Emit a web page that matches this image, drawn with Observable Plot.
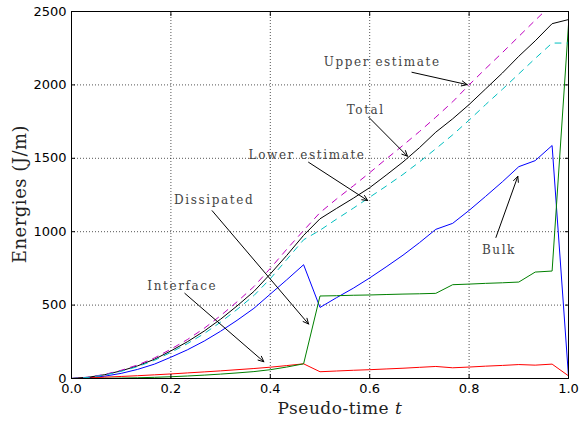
<!DOCTYPE html>
<html><head><meta charset="utf-8">
<script src="https://cdn.jsdelivr.net/npm/d3@7"></script>
<script src="https://cdn.jsdelivr.net/npm/@observablehq/plot@0.6"></script>
<style>
body{margin:0;background:#fff}
#chart svg g[aria-label="text"] text{letter-spacing:1.6px}
.axlab{letter-spacing:0.5px}
</style></head><body><div id="chart"></div>
<script>
// pseudo-time samples
const t = [0, 0.033, 0.067, 0.1, 0.133, 0.167, 0.2, 0.233, 0.267, 0.3, 0.333, 0.367, 0.4, 0.433, 0.467,
  0.5, 0.533, 0.567, 0.6, 0.633, 0.667, 0.7, 0.733, 0.767, 0.8, 0.833, 0.867, 0.9, 0.933, 0.967, 1.0];
const bulk = [0, 4, 16, 35, 62, 98, 145, 195, 255, 322, 396, 478, 575, 672, 775,
  484, 550, 615, 685, 760, 840, 925, 1016, 1057, 1145, 1240, 1340, 1443, 1484, 1587, 15];
const dissipated = [0, 0, 1, 3, 5, 8, 12, 17, 23, 30, 38, 47, 60, 78, 100,
  562, 564, 567, 569, 572, 575, 577, 580, 639, 643, 648, 652, 657, 725, 732, 2410];
const interfaceE = [0, 4, 9, 14, 19, 25, 31, 38, 45, 52, 60, 68, 77, 88, 100,
  46, 51, 56, 60, 65, 70, 76, 82, 73, 78, 84, 89, 95, 91, 98, 18];
const total = [0, 8, 26, 52, 86, 131, 188, 250, 323, 404, 494, 593, 712, 838, 975,
  1088, 1158, 1228, 1300, 1385, 1475, 1572, 1678, 1769, 1866, 1972, 2081, 2195, 2300, 2417, 2445];
const upper = [0, 9, 28, 56, 92, 140, 200, 265, 342, 428, 522, 626, 750, 880, 1008,
  1130, 1222, 1312, 1402, 1495, 1588, 1682, 1780, 1885, 2000, 2110, 2220, 2330, 2440, 2550, 2580];
const lower = [0, 7, 24, 49, 81, 124, 178, 237, 306, 384, 470, 565, 680, 810, 945,
  1010, 1085, 1160, 1235, 1310, 1390, 1475, 1565, 1660, 1760, 1865, 1970, 2075, 2180, 2285, 2285];

const xTicks = [0, 0.2, 0.4, 0.6, 0.8, 1.0];
const yTicks = [0, 500, 1000, 1500, 2000, 2500];

// annotations (data coordinates)
const annLabels = ["Upper estimate", "Total", "Lower estimate", "Dissipated", "Interface", "Bulk"];
const annTextT = [0.625, 0.592, 0.474, 0.287, 0.223, 0.860];
const annTextV = [2152, 1830, 1523, 1212, 632, 877];
const annFromT = [0.685, 0.598, 0.477, 0.283, 0.228, 0.854];
const annFromV = [2086, 1780, 1473, 1143, 580, 961];
const annToT = [0.796, 0.676, 0.596, 0.477, 0.387, 0.898];
const annToV = [2002, 1514, 1212, 371, 114, 1377];

const series = [
  {name: "Bulk", values: bulk, color: "#0000ff", dash: null},
  {name: "Interface", values: interfaceE, color: "#ff0000", dash: null},
  {name: "Dissipated", values: dissipated, color: "#008000", dash: null},
  {name: "Total", values: total, color: "#000000", dash: null},
  {name: "Upper estimate", values: upper, color: "#bf00bf", dash: "6,6"},
  {name: "Lower estimate", values: lower, color: "#00bfbf", dash: "6,6"}
];
const ann = annLabels.map((l, i) => ({label: l, tx: annTextT[i], ty: annTextV[i],
  x1: annFromT[i], y1: annFromV[i], x2: annToT[i], y2: annToV[i]}));

const lineMarks = series.map(s => Plot.line(t.map((tt, i) => ({t: tt, v: s.values[i]})), {
  x: "t", y: "v", stroke: s.color, strokeWidth: 1, strokeDasharray: s.dash, clip: true
}));

const chart = Plot.plot({
  width: 581, height: 422,
  marginLeft: 71, marginRight: 13, marginTop: 11, marginBottom: 44,
  style: {fontFamily: "DejaVu Sans", fontSize: "13px", color: "#000", background: "#fff"},
  x: {domain: [0, 1]},
  y: {domain: [0, 2500]},
  marks: [
    Plot.ruleX(xTicks, {stroke: "#000", strokeDasharray: "1,2", strokeWidth: 0.8, strokeOpacity: 0.85}),
    Plot.ruleY(yTicks, {stroke: "#000", strokeDasharray: "1,2", strokeWidth: 0.8, strokeOpacity: 0.85}),
    ...lineMarks,
    Plot.arrow(ann, {x1: "x1", y1: "y1", x2: "x2", y2: "y2", stroke: "#000", strokeWidth: 1, headLength: 9, headAngle: 50}),
    Plot.text(ann, {x: "tx", y: "ty", text: "label", fontFamily: "DejaVu Serif", fontSize: 12, fill: "#444", textAnchor: "middle", lineAnchor: "middle"}),
    Plot.frame({stroke: "#000", strokeWidth: 1}),
    Plot.axisX(xTicks, {anchor: "bottom", tickSize: -4, tickPadding: 9, label: null, tickFormat: d3.format(".1f")}),
    Plot.axisX(xTicks, {anchor: "top", tickSize: -4, label: null, tickFormat: () => ""}),
    Plot.axisY(yTicks, {anchor: "left", tickSize: -4, tickPadding: 9, label: null, tickFormat: d3.format("d")}),
    Plot.axisY(yTicks, {anchor: "right", tickSize: -4, label: null, tickFormat: () => ""})
  ]
});
document.getElementById("chart").appendChild(chart);

const svg = d3.select(chart);
const xl = svg.append("text").attr("class", "axlab").attr("x", 340).attr("y", 414)
  .attr("text-anchor", "middle").attr("font-family", "DejaVu Serif").attr("font-size", 17).attr("fill", "#222");
xl.append("tspan").text("Pseudo-time ");
xl.append("tspan").attr("font-style", "italic").text("t");
svg.append("text").attr("class", "axlab").attr("transform", "translate(26,194) rotate(-90)")
  .attr("text-anchor", "middle").attr("font-family", "DejaVu Serif").attr("font-size", 18).attr("fill", "#222")
  .text("Energies (J/m)");
</script></body></html>
